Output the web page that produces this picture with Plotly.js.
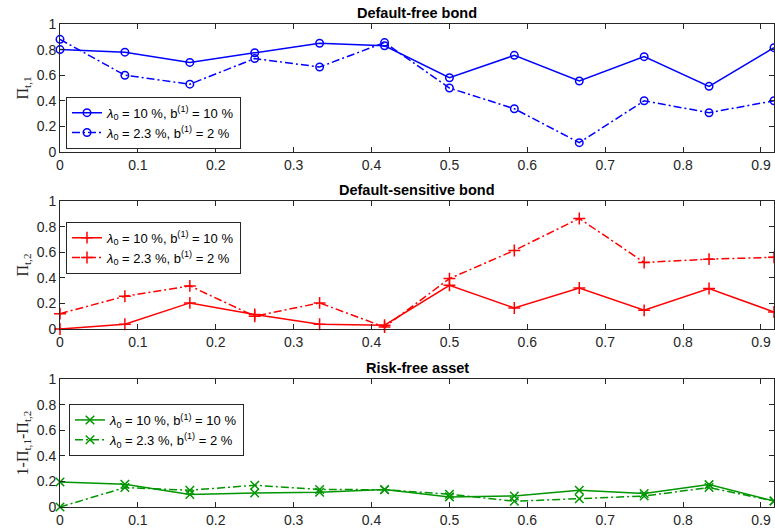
<!DOCTYPE html>
<html>
<head>
<meta charset="utf-8">
<script src="https://cdn.plot.ly/plotly-3.0.1.min.js"></script>
<style>html,body{margin:0;padding:0;background:#fff;}#chart{width:775px;height:529px;}</style>
</head>
<body>
<div id="chart"></div>
<script>
// time grid (years)
var t = [0, 0.0833, 0.1667, 0.25, 0.3333, 0.4167, 0.5, 0.5833, 0.6667, 0.75, 0.8333, 0.9167];

// Default-free bond weight Pi_{t,1}
var bond1High = [0.80, 0.78, 0.70, 0.775, 0.85, 0.83, 0.58, 0.755, 0.555, 0.745, 0.513, 0.815];
var bond1Low  = [0.88, 0.60, 0.53, 0.73, 0.664, 0.855, 0.50, 0.338, 0.073, 0.40, 0.307, 0.40];

// Default-sensitive bond weight Pi_{t,2}
var bond2High = [0, 0.037, 0.204, 0.113, 0.037, 0.03, 0.342, 0.164, 0.32, 0.146, 0.316, 0.133];
var bond2Low  = [0.12, 0.256, 0.337, 0.10, 0.204, 0.015, 0.394, 0.614, 0.864, 0.52, 0.546, 0.56];

// Risk-free asset 1 - Pi_{t,1} - Pi_{t,2}
var riskHigh = [0.196, 0.178, 0.097, 0.11, 0.115, 0.137, 0.079, 0.086, 0.131, 0.105, 0.175, 0.047];
var riskLow  = [0, 0.152, 0.131, 0.17, 0.137, 0.135, 0.10, 0.045, 0.065, 0.086, 0.152, 0.047];

var nameHigh = '<i>λ</i><sub>0</sub> = 10 %, b<sup>(1)</sup> = 10 %';
var nameLow  = '<i>λ</i><sub>0</sub> = 2.3 %, b<sup>(1)</sup> = 2 %';

var panelTitles = ['Default-free bond', 'Default-sensitive bond', 'Risk-free asset'];
var yTitles = ['Π<sub>t,1</sub>', 'Π<sub>t,2</sub>', '1-Π<sub>t,1</sub>-Π<sub>t,2</sub>'];
var xTickVals = [0, 0.1, 0.2, 0.3, 0.4, 0.5, 0.6, 0.7, 0.8, 0.9];
var yTickVals = [0, 0.2, 0.4, 0.6, 0.8, 1];

var blue = 'rgb(0,0,255)', red = 'rgb(255,0,0)', green = 'rgb(0,150,0)';
var dashDot = '8px,3px,2px,3px';

function tr(y, color, dash, symbol, xa, ya, leg, name) {
  return {
    x: t, y: y, type: 'scatter', mode: 'lines+markers', name: name,
    xaxis: xa, yaxis: ya, legend: leg, cliponaxis: false,
    line: {color: color, width: 1.5, dash: dash},
    marker: {symbol: symbol, size: symbol === 'circle-open' ? 7.5 : 8.5, color: color, line: {color: color, width: 1.5}}
  };
}

var data = [
  tr(bond1High, blue, 'solid', 'circle-open', 'x', 'y', 'legend', nameHigh),
  tr(bond1Low, blue, dashDot, 'circle-open', 'x', 'y', 'legend', nameLow),
  tr(bond2High, red, 'solid', 'cross-thin-open', 'x2', 'y2', 'legend2', nameHigh),
  tr(bond2Low, red, dashDot, 'cross-thin-open', 'x2', 'y2', 'legend2', nameLow),
  tr(riskHigh, green, 'solid', 'x-thin-open', 'x3', 'y3', 'legend3', nameHigh),
  tr(riskLow, green, dashDot, 'x-thin-open', 'x3', 'y3', 'legend3', nameLow)
];

var domains = [[0.735, 1], [0.3685, 0.6335], [0, 0.265]];
var axColor = '#262626';
var tickFont = {family: 'Liberation Sans, Arial, sans-serif', size: 14, color: '#262626'};

function xax(anchor) {
  return {anchor: anchor, range: [0, 0.9167], tickvals: xTickVals, ticktext: xTickVals.map(String),
    ticks: 'inside', ticklen: 5, tickcolor: axColor, showline: true, linecolor: axColor, linewidth: 1,
    mirror: 'ticks', showgrid: false, zeroline: false, tickfont: tickFont};
}
function yax(anchor, dom, title) {
  return {anchor: anchor, domain: dom, range: [0, 1], tickvals: yTickVals, ticktext: yTickVals.map(String),
    ticks: 'inside', ticklen: 5, tickcolor: axColor, showline: true, linecolor: axColor, linewidth: 1,
    mirror: 'ticks', showgrid: false, zeroline: false, tickfont: tickFont,
    title: {text: title, font: {family: 'Liberation Serif, Times New Roman, serif', size: 16, color: '#262626'}, standoff: 4}};
}

function legendCfg(x, y) {
  return {x: x, y: y, xanchor: 'left', yanchor: 'top', bgcolor: '#fff', bordercolor: axColor, borderwidth: 1,
    font: {family: 'Liberation Sans, Arial, sans-serif', size: 13, color: '#000'}, tracegroupgap: 0, itemwidth: 30};
}

var annotations = panelTitles.map(function (txt, i) {
  return {text: '<b>' + txt + '</b>', xref: 'paper', yref: 'paper', x: 0.5, y: domains[i][1],
    xanchor: 'center', yanchor: 'bottom', yshift: 1, showarrow: false,
    font: {family: 'Liberation Sans, Arial, sans-serif', size: 14.5, color: '#000'}};
});

var layout = {
  width: 775, height: 529,
  margin: {l: 60, r: 1, t: 24, b: 22},
  paper_bgcolor: '#fff', plot_bgcolor: '#fff',
  showlegend: true,
  xaxis: xax('y'), yaxis: yax('x', domains[0], yTitles[0]),
  xaxis2: xax('y2'), yaxis2: yax('x2', domains[1], yTitles[1]),
  xaxis3: xax('y3'), yaxis3: yax('x3', domains[2], yTitles[2]),
  legend: legendCfg(0.0084, 0.8495),
  legend2: legendCfg(0.0084, 0.5907),
  legend3: legendCfg(0.0126, 0.2133),
  annotations: annotations
};

Plotly.newPlot('chart', data, layout, {displayModeBar: false, staticPlot: true});
</script>
</body>
</html>
